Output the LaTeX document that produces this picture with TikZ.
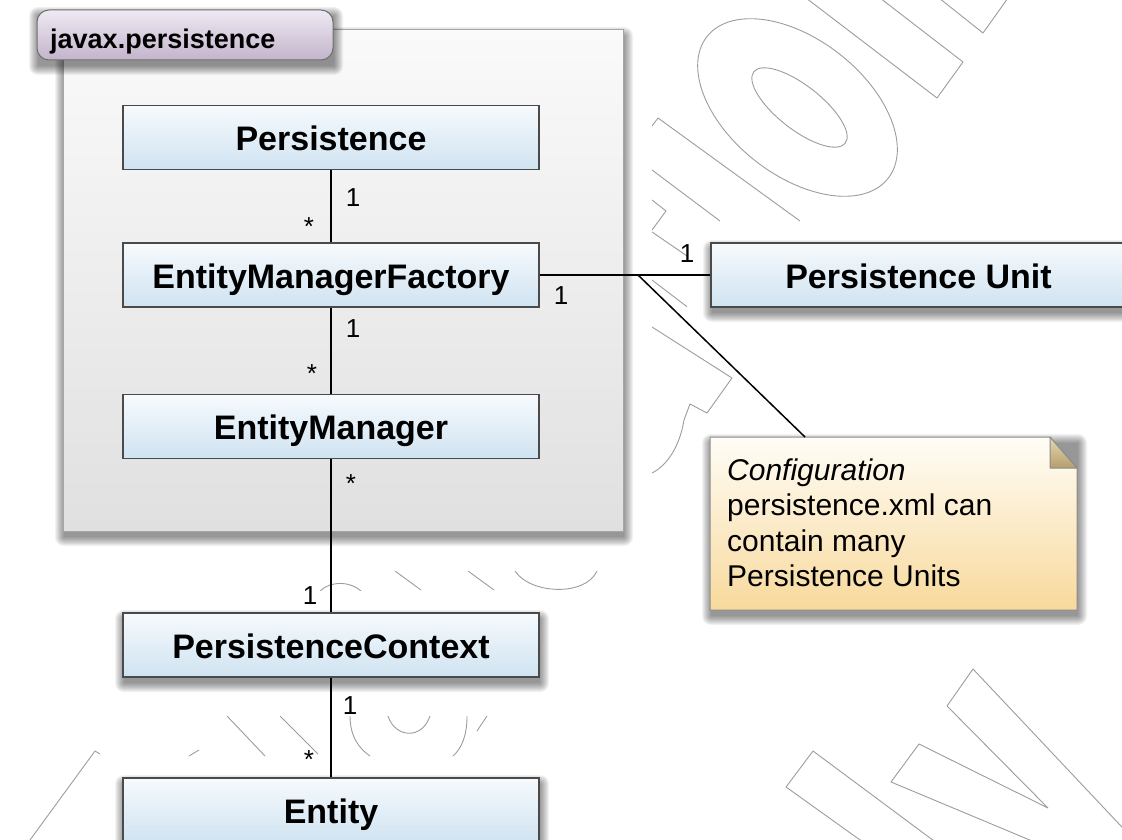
\documentclass[tikz,border=0pt]{standalone}
\usepackage{fontspec}
\setmainfont{Liberation Sans}
\definecolor{boxtop}{HTML}{F7FAFD}
\definecolor{boxbot}{HTML}{CFE3F1}
\definecolor{boxline}{HTML}{4A4A4A}
\definecolor{pkgtop}{HTML}{FAFAFA}
\definecolor{pkgbot}{HTML}{E0E0E0}
\definecolor{pkgline}{HTML}{A5A5A5}
\definecolor{tabtop}{HTML}{EFE9F3}
\definecolor{tabbot}{HTML}{C3B4CB}
\definecolor{tabline}{HTML}{6E6E6E}
\definecolor{notetop}{HTML}{FFFDF7}
\definecolor{notebot}{HTML}{F8D99C}
\definecolor{noteline}{HTML}{8C8C8C}
\definecolor{eartop}{HTML}{E6D8B0}
\definecolor{earbot}{HTML}{B59E6E}
\definecolor{wmline}{HTML}{9C9C9C}
\newcommand\softshadow[4]{%
  \foreach \k in {0,...,9}{%
    \fill[black,opacity=0.05,rounded corners=\k pt] (#1+1-\k,#2+6-\k) rectangle (#3+1+\k,#4+6+\k);}}
\tikzset{
  cls/.style={draw=boxline, line width=1.5pt, top color=boxtop, bottom color=boxbot,
    minimum width=416pt, minimum height=64pt, inner sep=0pt,
    font=\fontsize{34}{34}\selectfont\bfseries, text height=26pt, text depth=0pt},
  conn/.style={draw=black, line width=1.5pt},
  mult/.style={font=\fontsize{26}{26}\selectfont, inner sep=0pt, anchor=base},
  notetext/.style={font=\fontsize{30}{30}\selectfont, inner sep=0pt, anchor=base west},
  wm/.style={draw=wmline, line width=0.9pt, line join=round},
}
\begin{document}
\begin{tikzpicture}[x=1pt,y=-1pt]
\useasboundingbox (0,0) rectangle (1122,840);
\clip (0,0) rectangle (1122,840);
% watermark fragments
\begin{scope}
  \draw[wm, rotate around={-38:(797.5,107.5)}] (797.5,107.5) ellipse (115 and 68);
  \draw[wm, rotate around={-38:(799.5,107.5)}] (799.5,107.5) ellipse (58 and 22);
  \draw[wm] (806,-2) -- (937,98) -- (963,62) -- (880,-2);
  \draw[wm] (939,-2) -- (983,33) -- (1008,-2);
  \draw[wm] (891,782) -- (919,744) -- (1048,808) -- (947,706) -- (973,669) -- (1202,912) -- cycle;
  \draw[wm] (786,787) -- (813,751) -- (1000,890) -- (930,890) -- cycle;
  \draw[wm] (30,840) -- (95,751) -- (100,754);
  \begin{scope}
    \clip (652,0) rectangle (1122,221);
    \draw[wm] (800,221) -- (658,118) -- (640,142);
    \draw[wm] (652,170) -- (720,221);
  \end{scope}
  \begin{scope}
    \clip (652,195) rectangle (687,480);
    \draw[wm] (652,200) -- (666,211) -- (652,230);
    \draw[wm] (652,232) -- (690,258);
    \draw[wm] (652,280) -- (690,309);
  \end{scope}
  \begin{scope}
    \clip (652,320) rectangle (740,480);
    \draw[wm] (652,327) -- (732,378) -- (707,413) -- (690,404) -- (684,420)
      .. controls (680,445) and (668,465) .. (652,473);
  \end{scope}
  \begin{scope}
    \clip (300,571) rectangle (610,590);
    \draw[wm] (318,594) .. controls (325,582) and (350,578) .. (364,594);
    \draw[wm] (395,571) -- (421,590);
    \draw[wm] (468,571) -- (494,590);
    \draw[wm] (515,571) .. controls (530,594) and (585,597) .. (597,571);
  \end{scope}
  \begin{scope}
    \clip (150,716) rectangle (520,756);
    \draw[wm] (227,716) -- (265,756);
    \draw[wm] (280,716) -- (318,754);
    \draw[wm] (350,716) .. controls (350,735) and (358,748) .. (370,756);
    \draw[wm] (388,716) .. controls (395,738) and (422,740) .. (430,716);
    \draw[wm] (467,716) .. controls (467,735) and (462,748) .. (453,756);
    \draw[wm] (477,731) -- (487,716);
    \draw[wm] (189,756) -- (199,750);
  \end{scope}
\end{scope}
% package
\softshadow{63}{30}{623}{531}
\node[draw=pkgline, line width=1pt, top color=pkgtop, bottom color=pkgbot,
  minimum width=560pt, minimum height=501pt, inner sep=0pt] (pkg) at (343,280.5) {};
\softshadow{37}{10}{333}{60}
\node[draw=tabline, line width=1pt, top color=tabtop, bottom color=tabbot, rounded corners=12pt,
  minimum width=296pt, minimum height=50pt, inner sep=0pt] (tab) at (185,35) {};
\node[font=\fontsize{27}{27}\selectfont\bfseries, inner sep=0pt, anchor=base west] (tabl) at (50,49) {javax.persistence};
% classes
\node[cls] (pers) at (331,137.5) {Persistence};
\node[cls] (emf) at (331,275) {EntityManagerFactory};
\node[cls] (em) at (331,426.5) {EntityManager};
\softshadow{123}{613}{539}{677}
\node[cls] (pc) at (331,645) {PersistenceContext};
\softshadow{123}{778}{539}{843}
\node[cls, minimum height=65pt] (ent) at (331,810.5) {Entity};
\softshadow{711}{243}{1126}{307}
\node[cls, minimum width=415pt] (pu) at (918.5,275) {Persistence Unit};
% note
\softshadow{710}{437}{1077}{610}
\node[inner sep=0pt, minimum width=367pt, minimum height=173pt] (note) at (893.5,523.5) {};
\draw[draw=noteline, line width=1pt, top color=notetop, bottom color=notebot]
  (710,437) -- (1050,437) -- (1077,468) -- (1077,610) -- (710,610) -- cycle;
\draw[draw=noteline, line width=1pt, top color=eartop, bottom color=earbot, line join=round]
  (1050,437) -- (1050,468) -- (1077,468) -- cycle;
\node[notetext] (n1) at (727,480) {\itshape Configuration};
\node[notetext] (n2) at (727,515.5) {persistence.xml can};
\node[notetext] (n3) at (727,551) {contain many};
\node[notetext] (n4) at (727,586.5) {Persistence Units};
% connectors
\draw[conn] (pers.south) -- (emf.north);
\draw[conn] (emf.south) -- (em.north);
\draw[conn] (em.south) -- (pc.north);
\draw[conn] (pc.south) -- (ent.north);
\draw[conn] (emf.east) -- (pu.west);
\coordinate (j) at (638,275);
\coordinate (nt) at (805,437);
\draw[line width=1.5pt] (j) -- (nt);
% multiplicities
\node[mult] (m1) at (353,206.5) {1};
\node[mult] (m2) at (309,235) {*};
\node[mult] (m3) at (353,337.5) {1};
\node[mult] (m4) at (312,382) {*};
\node[mult] (m5) at (351,492) {*};
\node[mult] (m6) at (310,604.5) {1};
\node[mult] (m7) at (350,714.5) {1};
\node[mult] (m8) at (309,768) {*};
\node[mult] (m9) at (561,304.5) {1};
\node[mult] (m10) at (687,262.5) {1};
\end{tikzpicture}
\end{document}
